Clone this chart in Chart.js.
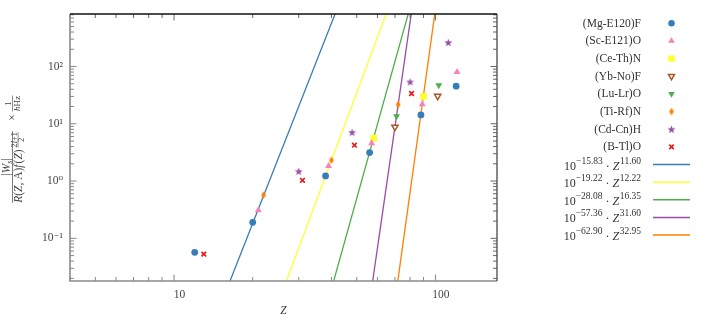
<!DOCTYPE html>
<html><head><meta charset="utf-8">
<script src="https://cdn.jsdelivr.net/npm/chart.js@4.4.1/dist/chart.umd.min.js"></script>
<style>html,body{margin:0;padding:0;background:#fff}#wrap{width:704px;height:320px;position:relative}canvas{display:block}</style>
</head><body><div id="wrap"><canvas id="c" width="704" height="320"></canvas></div>
<script>
const SERIF = '"Liberation Serif", "DejaVu Serif", serif';

// ---- data (Z, value) per series ----
const mgLabel = '(Mg-E120)F', mgZ = [12, 20, 38, 56, 88, 120], mgW = [0.057, 0.19, 1.23, 3.14, 14.3, 45.4];
const scLabel = '(Sc-E121)O', scZ = [21, 39, 57, 89, 121], scW = [0.31, 1.84, 4.58, 22.0, 79.8];
const ceLabel = '(Ce-Th)N', ceZ = [58, 90], ceW = [5.6, 29.9];
const ybLabel = '(Yb-No)F', ybZ = [70, 102], ybW = [8.8, 30.4];
const luLabel = '(Lu-Lr)O', luZ = [71, 103], luW = [13.6, 47.2];
const tiLabel = '(Ti-Rf)N', tiZ = [22, 40, 72], tiW = [0.57, 2.31, 21.7];
const cdLabel = '(Cd-Cn)H', cdZ = [30, 48, 80, 112], cdW = [1.48, 7.1, 54, 263];
const btLabel = '(B-Tl)O', btZ = [13, 31, 49, 81], btW = [0.053, 1.03, 4.23, 33.7];

// fit lines: 10^exp * Z^pow
const fitExp = [-15.83, -19.22, -28.08, -57.36, -62.90];
const fitExpText = ['\u221215.83', '\u221219.22', '\u221228.08', '\u221257.36', '\u221262.90'];
const fitPow = [11.60, 12.22, 16.35, 31.60, 32.95];
const fitPowText = ['11.60', '12.22', '16.35', '31.60', '32.95'];

// axes
const xMin = 4, xMax = 172, yMin = 0.018, yMax = 825;
const xTickValues = [10, 100];
const xTickLabels = ['10', '100'];
const yTickValues = [0.1, 1, 10, 100];
const yTickLabels = ['10\u207B\u00B9', '10\u2070', '10\u00B9', '10\u00B2'];

// ---- styles ----
const C = {blue:'#377eb8', pink:'#f781bf', yellow:'#ffff33', brown:'#a65628', green:'#4daf4a', orange:'#ff7f00', purple:'#984ea3', red:'#e41a1c'};
const fitColors = [C.blue, C.yellow, C.green, C.purple, C.orange];

function starCanvas(color){
  const s = 9, cv = document.createElement('canvas'); cv.width = s; cv.height = s;
  const g = cv.getContext('2d'); g.fillStyle = color; g.beginPath();
  const cx = s/2, cy = s/2 + 0.4, R = 4.2, r = 1.75;
  for (let i = 0; i < 10; i++) {
    const a = -Math.PI/2 + i*Math.PI/5, rr = i%2 ? r : R;
    const px = cx + rr*Math.cos(a), py = cy + rr*Math.sin(a);
    i ? g.lineTo(px, py) : g.moveTo(px, py);
  }
  g.closePath(); g.fill(); return cv;
}
function diamondCanvas(color){
  const w = 6, h = 8, cv = document.createElement('canvas'); cv.width = w; cv.height = h;
  const g = cv.getContext('2d'); g.fillStyle = color; g.beginPath();
  g.moveTo(w/2, 0.3); g.lineTo(w-0.6, h/2); g.lineTo(w/2, h-0.3); g.lineTo(0.6, h/2); g.closePath(); g.fill(); return cv;
}
const starImg = starCanvas(C.purple), diaImg = diamondCanvas(C.orange);

function pts(zs, ws){ return zs.map((z, i) => ({x: z, y: ws[i]})); }

const scatterDefs = [
  {label: mgLabel, data: pts(mgZ, mgW), pointStyle: 'circle', pointRadius: 3.4, pointBackgroundColor: C.blue, pointBorderColor: C.blue, pointBorderWidth: 0},
  {label: scLabel, data: pts(scZ, scW), pointStyle: 'triangle', pointRadius: 4, pointBackgroundColor: C.pink, pointBorderColor: C.pink, pointBorderWidth: 0},
  {label: ceLabel, data: pts(ceZ, ceW), pointStyle: 'rect', pointRadius: 4.8, pointBackgroundColor: C.yellow, pointBorderColor: C.yellow, pointBorderWidth: 0},
  {label: ybLabel, data: pts(ybZ, ybW), pointStyle: 'triangle', pointRotation: 180, pointRadius: 3.6, pointBackgroundColor: '#ffffff', pointBorderColor: C.brown, pointBorderWidth: 1.5},
  {label: luLabel, data: pts(luZ, luW), pointStyle: 'triangle', pointRotation: 180, pointRadius: 4, pointBackgroundColor: C.green, pointBorderColor: C.green, pointBorderWidth: 0},
  {label: tiLabel, data: pts(tiZ, tiW), pointStyle: diaImg, pointRadius: 4, pointBackgroundColor: C.orange, pointBorderColor: C.orange, pointBorderWidth: 0},
  {label: cdLabel, data: pts(cdZ, cdW), pointStyle: starImg, pointRadius: 4, pointBackgroundColor: C.purple, pointBorderColor: C.purple, pointBorderWidth: 0},
  {label: btLabel, data: pts(btZ, btW), pointStyle: 'crossRot', pointRadius: 3.3, pointBackgroundColor: C.red, pointBorderColor: C.red, pointBorderWidth: 1.7}
];
const datasets = scatterDefs.map(d => Object.assign({showLine: false, pointHoverRadius: d.pointRadius}, d));

// fit lines, evaluated beyond the plotted range and clipped by the chart area
const lineLowY = 0.005, lineHighY = 5000;
fitExp.forEach((a, i) => {
  const b = fitPow[i];
  const z1 = Math.pow(10, (Math.log10(lineLowY) - a) / b);
  const z2 = Math.pow(10, (Math.log10(lineHighY) - a) / b);
  datasets.push({label: 'fit' + i, data: [{x: z1, y: Math.pow(10, a) * Math.pow(z1, b)}, {x: z2, y: Math.pow(10, a) * Math.pow(z2, b)}],
    showLine: true, borderColor: fitColors[i], borderWidth: 1.3, pointRadius: 0, pointHoverRadius: 0, fill: false});
});

function minorTicks(lo, hi){
  const out = [];
  for (let e = Math.floor(Math.log10(lo)); e <= Math.ceil(Math.log10(hi)); e++)
    for (let m = 1; m <= 9; m++) { const v = m * Math.pow(10, e); if (v >= lo && v <= hi) out.push(v); }
  return out;
}
const isMajor = v => Math.abs(Math.log10(v) - Math.round(Math.log10(v))) < 1e-9;

// rich text helper
function rich(ctx, parts, x, y, draw){
  let w = 0;
  for (const p of parts) {
    ctx.font = (p.it ? 'italic ' : '') + p.sz + 'px ' + SERIF;
    if (draw) ctx.fillText(p.t, x + w, y + (p.dy || 0));
    w += ctx.measureText(p.t).width + (p.sp || 0);
  }
  return w;
}

const framePlugin = {
  id: 'frame',
  afterDatasetsDraw(chart){
    const ctx = chart.ctx, a = chart.chartArea, xs = chart.scales.x, ys = chart.scales.y;
    ctx.save();
    const tickSet = [
      {vals: minorTicks(xMin, xMax), sc: xs, horiz: true},
      {vals: minorTicks(yMin, yMax), sc: ys, horiz: false}
    ];
    for (const t of tickSet) {
      for (const v of t.vals) {
        const p = t.sc.getPixelForValue(v), L = isMajor(v) ? 6.5 : 4;
        ctx.lineWidth = 1;
        if (t.horiz) {
          ctx.strokeStyle = '#888'; ctx.beginPath(); ctx.moveTo(p, a.bottom); ctx.lineTo(p, a.bottom - L); ctx.stroke();
          ctx.strokeStyle = '#666'; ctx.beginPath(); ctx.moveTo(p, a.top); ctx.lineTo(p, a.top + L); ctx.stroke();
        } else {
          ctx.strokeStyle = '#888'; ctx.beginPath(); ctx.moveTo(a.left, p); ctx.lineTo(a.left + L, p); ctx.stroke();
          ctx.strokeStyle = '#666'; ctx.beginPath(); ctx.moveTo(a.right, p); ctx.lineTo(a.right - L, p); ctx.stroke();
        }
      }
    }
    ctx.lineWidth = 1.6; ctx.strokeStyle = '#8a8a8a';
    ctx.beginPath(); ctx.moveTo(a.left, a.top); ctx.lineTo(a.left, a.bottom); ctx.lineTo(a.right, a.bottom); ctx.stroke();
    ctx.lineWidth = 1.4; ctx.strokeStyle = '#555';
    ctx.beginPath(); ctx.moveTo(a.right, a.bottom); ctx.lineTo(a.right, a.top); ctx.stroke();
    ctx.lineWidth = 1.3; ctx.strokeStyle = '#111';
    ctx.beginPath(); ctx.moveTo(a.left, a.top); ctx.lineTo(a.right, a.top); ctx.stroke();
    ctx.restore();
  },
  afterDraw(chart){
    const ctx = chart.ctx;
    ctx.save();
    ctx.fillStyle = '#444'; ctx.strokeStyle = '#444'; ctx.textBaseline = 'alphabetic';
    // ---- rotated y-axis title ----
    const S = 11.5, s = 8;
    const num = [{t:'|',sz:S},{t:'W',sz:S,it:1},{t:'s',sz:s,it:1,dy:2},{t:'|',sz:S}];
    const den = [{t:'R',sz:S,it:1},{t:'(',sz:S},{t:'Z',sz:S,it:1},{t:', ',sz:S},{t:'A',sz:S},{t:')',sz:S},
                 {t:'f',sz:S,it:1,sp:1},{t:'(',sz:S},{t:'Z',sz:S,it:1},{t:')',sz:S,sp:2}];
    const sfTop = [{t:'2',sz:s},{t:'I',sz:s,it:1},{t:'+1',sz:s}], sfBot = [{t:'2',sz:s}];
    const cx = 12.5;
    ctx.translate(cx, 0); ctx.rotate(-Math.PI/2);
    const denW = rich(ctx, den, 0, 0, false), sfW = Math.max(rich(ctx, sfTop, 0, 0, false), rich(ctx, sfBot, 0, 0, false));
    const f1W = denW + sfW + 1, numW = rich(ctx, num, 0, 0, false);
    const f1c = -167, u1 = f1c - f1W/2;
    rich(ctx, num, f1c - numW/2, -2.5, true);
    rich(ctx, den, u1, 9, true);
    const sfx = u1 + denW;
    const sft = rich(ctx, sfTop, 0, 0, false), sfb = rich(ctx, sfBot, 0, 0, false);
    rich(ctx, sfTop, sfx + (sfW - sft)/2, 4, true);
    rich(ctx, sfBot, sfx + (sfW - sfb)/2, 11.5, true);
    ctx.lineWidth = 0.6; ctx.beginPath(); ctx.moveTo(sfx, 5.5); ctx.lineTo(sfx + sfW, 5.5); ctx.stroke();
    ctx.lineWidth = 0.7; ctx.beginPath(); ctx.moveTo(u1, 0); ctx.lineTo(u1 + f1W, 0); ctx.stroke();
    ctx.font = S + 'px ' + SERIF; const tw = ctx.measureText('\u00D7').width;
    ctx.fillText('\u00D7', -117.5 - tw/2, 3.5);
    const f2n = [{t:'1',sz:9}], f2d = [{t:'h',sz:9,it:1},{t:'Hz',sz:9}];
    const f2nW = rich(ctx, f2n, 0, 0, false), f2dW = rich(ctx, f2d, 0, 0, false), f2c = -103.5;
    rich(ctx, f2n, f2c - f2nW/2, -2, true);
    rich(ctx, f2d, f2c - f2dW/2, 7.5, true);
    ctx.lineWidth = 0.6; ctx.beginPath(); ctx.moveTo(f2c - f2dW/2 - 0.5, 0); ctx.lineTo(f2c + f2dW/2 + 0.5, 0); ctx.stroke();
    ctx.restore();

    // ---- legend ----
    ctx.save();
    const textRight = 641, markX = 671.5, lineX1 = 653, lineX2 = 690, row0 = 23.3, dRow = 17.65;
    scatterDefs.forEach((d, i) => {
      const y = row0 + i * dRow;
      ctx.fillStyle = '#333'; ctx.textAlign = 'right'; ctx.textBaseline = 'middle'; ctx.font = '11.5px ' + SERIF;
      ctx.fillText(d.label, textRight, y + 0.5);
      ctx.save();
      ctx.fillStyle = d.pointBackgroundColor; ctx.strokeStyle = d.pointBorderColor; ctx.lineWidth = d.pointBorderWidth;
      Chart.helpers.drawPoint(ctx, {pointStyle: d.pointStyle, rotation: d.pointRotation || 0, radius: d.pointRadius * 0.95, borderWidth: d.pointBorderWidth}, markX, y);
      ctx.restore();
    });
    ctx.textAlign = 'left'; ctx.textBaseline = 'alphabetic';
    fitExp.forEach((a, i) => {
      const y = row0 + (scatterDefs.length + i) * dRow;
      const parts = [{t:'10',sz:12},{t:fitExpText[i],sz:9.5,dy:-6},{t:' \u00B7 ',sz:12},{t:'Z',sz:12,it:1,sp:0.5},{t:fitPowText[i],sz:9.5,dy:-6}];
      ctx.fillStyle = '#333';
      const w = rich(ctx, parts, 0, 0, false);
      rich(ctx, parts, textRight - w, y + 5, true);
      ctx.strokeStyle = fitColors[i]; ctx.lineWidth = 1.5;
      ctx.beginPath(); ctx.moveTo(lineX1, y); ctx.lineTo(lineX2, y); ctx.stroke();
    });
    ctx.restore();
  }
};

new Chart(document.getElementById('c').getContext('2d'), {
  type: 'scatter',
  data: {datasets},
  plugins: [framePlugin],
  options: {
    responsive: false, devicePixelRatio: 1, animation: false,
    layout: {padding: {left: 0, right: 207, top: 14, bottom: 0}},
    plugins: {legend: {display: false}, tooltip: {enabled: false}},
    scales: {
      x: {
        type: 'logarithmic', min: xMin, max: xMax,
        afterBuildTicks: sc => { sc.ticks = xTickValues.map(v => ({value: v, major: true})); },
        afterFit: sc => { sc.height = 39; },
        grid: {display: false, drawTicks: false}, border: {display: false},
        ticks: {autoSkip: false, maxRotation: 0, minRotation: 0, padding: 7, labelOffset: 5.5, color: '#444',
          font: {family: SERIF, size: 11.5},
          callback: (v) => { const k = xTickValues.indexOf(v); return k >= 0 ? xTickLabels[k] : ''; }},
        title: {display: true, text: 'Z', color: '#333', font: {family: SERIF, size: 11.5, style: 'italic'}, padding: {top: 0, bottom: 2}}
      },
      y: {
        type: 'logarithmic', min: yMin, max: yMax,
        afterBuildTicks: sc => { sc.ticks = yTickValues.map(v => ({value: v, major: true})); },
        afterFit: sc => { sc.width = 70; },
        grid: {display: false, drawTicks: false}, border: {display: false},
        ticks: {autoSkip: false, padding: 7, color: '#444', font: {family: SERIF, size: 11.5},
          callback: (v) => { const k = yTickValues.indexOf(v); return k >= 0 ? yTickLabels[k] : ''; }}
      }
    }
  }
});
</script>
</body></html>
